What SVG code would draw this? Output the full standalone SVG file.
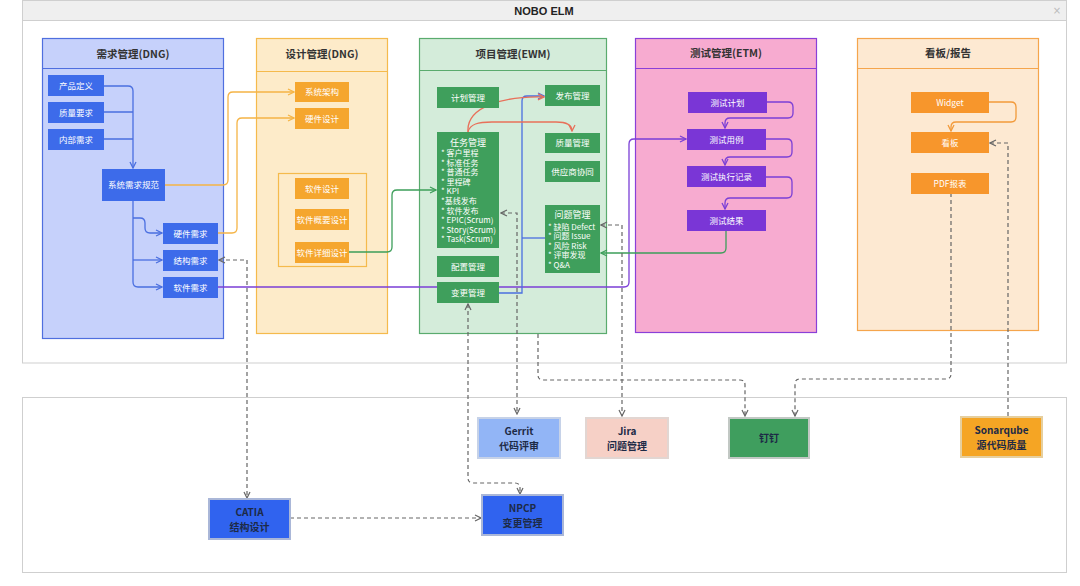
<svg xmlns="http://www.w3.org/2000/svg" width="1080" height="586" viewBox="0 0 1080 586">
<style>
text{font-family:"Noto Sans CJK SC","Noto Sans",sans-serif;}
.hd{font-size:10.5px;font-weight:bold;fill:#333;text-anchor:middle;}
.nt{font-size:8.5px;fill:#fff;text-anchor:middle;}
.lt{font-size:8px;fill:#fff;}
.bt{font-size:10px;font-weight:bold;fill:#1d2a46;text-anchor:middle;}
.c{fill:none;stroke-width:1.3;}
.dash{fill:none;stroke:#666;stroke-width:1.2;stroke-dasharray:4 3;}
.nb{fill:#3d6bea;}
.no{fill:#f5a62e;}
.ng{fill:#3f9f5c;}
.np{fill:#7a36d6;}
.nob{fill:#f7962c;}
</style>
<defs>
<marker id="mb" viewBox="0 0 8 8" refX="7" refY="4" markerWidth="8" markerHeight="8" markerUnits="userSpaceOnUse" orient="auto-start-reverse"><path d="M1,1 L7,4 L1,7" fill="none" stroke="#4a6fe0" stroke-width="1.3"/></marker>
<marker id="mo" viewBox="0 0 8 8" refX="7" refY="4" markerWidth="8" markerHeight="8" markerUnits="userSpaceOnUse" orient="auto-start-reverse"><path d="M1,1 L7,4 L1,7" fill="none" stroke="#f5b445" stroke-width="1.3"/></marker>
<marker id="mg" viewBox="0 0 8 8" refX="7" refY="4" markerWidth="8" markerHeight="8" markerUnits="userSpaceOnUse" orient="auto-start-reverse"><path d="M1,1 L7,4 L1,7" fill="none" stroke="#3d9e5a" stroke-width="1.3"/></marker>
<marker id="mp" viewBox="0 0 8 8" refX="7" refY="4" markerWidth="8" markerHeight="8" markerUnits="userSpaceOnUse" orient="auto-start-reverse"><path d="M1,1 L7,4 L1,7" fill="none" stroke="#7b3fd6" stroke-width="1.3"/></marker>
<marker id="mr" viewBox="0 0 8 8" refX="7" refY="4" markerWidth="8" markerHeight="8" markerUnits="userSpaceOnUse" orient="auto-start-reverse"><path d="M1,1 L7,4 L1,7" fill="none" stroke="#e8705a" stroke-width="1.3"/></marker>
<marker id="mbo" viewBox="0 0 8 8" refX="7" refY="4" markerWidth="8" markerHeight="8" markerUnits="userSpaceOnUse" orient="auto-start-reverse"><path d="M1,1 L7,4 L1,7" fill="none" stroke="#f29a3a" stroke-width="1.3"/></marker>
<marker id="md" viewBox="0 0 8 8" refX="7" refY="4" markerWidth="8" markerHeight="8" markerUnits="userSpaceOnUse" orient="auto-start-reverse"><path d="M1,1 L7,4 L1,7" fill="none" stroke="#666" stroke-width="1.2"/></marker>
</defs>
<rect width="1080" height="586" fill="#fff"/>
<g id="frame">
<rect x="22.5" y="0.5" width="1044" height="362.5" fill="#fff" stroke="#cfcfcf"/>
<rect x="22.5" y="0.5" width="1044" height="20" fill="#efefef" stroke="#cfcfcf"/>
<text x="544" y="14.5" style="font-family:'Liberation Sans','Noto Sans',sans-serif;font-size:11px;font-weight:bold;fill:#222;text-anchor:middle">NOBO ELM</text>
<text x="1057" y="14" style="font-family:'DejaVu Sans',sans-serif;font-size:10px;fill:#bbb;text-anchor:middle">×</text>
<rect x="22.5" y="397.5" width="1044" height="175" fill="#fff" stroke="#cfcfcf"/>
</g>
<g id="col-dng">
<rect x="42.5" y="38.5" width="181" height="300" fill="#c6d1fb" stroke="#4f6fdf" stroke-width="1.2"/>
<line x1="42.5" y1="68.5" x2="223.5" y2="68.5" stroke="#4f6fdf" stroke-width="1.2"/>
<text class="hd" x="133" y="57.5">需求管理(DNG)</text>
</g>
<g id="col-design">
<rect x="256.5" y="38.5" width="131" height="295" fill="#fdebc9" stroke="#f5ba4c" stroke-width="1.2"/>
<line x1="256.5" y1="71.5" x2="387.5" y2="71.5" stroke="#f5ba4c" stroke-width="1.2"/>
<text class="hd" x="322" y="58">设计管理(DNG)</text>
<rect x="278.5" y="173.5" width="88" height="93" fill="none" stroke="#f5ba4c" stroke-width="1.2"/>
</g>
<g id="col-ewm">
<rect x="419.5" y="38.5" width="187" height="295" fill="#d4ecda" stroke="#5aab6e" stroke-width="1.2"/>
<line x1="419.5" y1="70.5" x2="606.5" y2="70.5" stroke="#5aab6e" stroke-width="1.2"/>
<text class="hd" x="513" y="57.5">项目管理(EWM)</text>
</g>
<g id="col-etm">
<rect x="635.5" y="38.5" width="181" height="294" fill="#f7abd0" stroke="#8a3fd8" stroke-width="1.2"/>
<line x1="635.5" y1="68.5" x2="816.5" y2="68.5" stroke="#8a3fd8" stroke-width="1.2"/>
<text class="hd" x="726" y="57">测试管理(ETM)</text>
</g>
<g id="col-board">
<rect x="857.5" y="38.5" width="181" height="292" fill="#fde9d2" stroke="#f5a54c" stroke-width="1.2"/>
<line x1="857.5" y1="68.5" x2="1038.5" y2="68.5" stroke="#f5a54c" stroke-width="1.2"/>
<text class="hd" x="948" y="57">看板/报告</text>
</g>
<g id="connectors">
<path class="c" stroke="#4a6fe0" d="M104,86 H128 Q133,86 133,91 V168" marker-end="url(#mb)"/>
<path class="c" stroke="#4a6fe0" d="M104,112 H133 M104,139 H133"/>
<path class="c" stroke="#4a6fe0" d="M133,201 V282 Q133,287 138,287 H162" marker-end="url(#mb)"/>
<path class="c" stroke="#4a6fe0" d="M133,218 H140 Q145,218 145,223 V228 Q145,233 150,233 H162" marker-end="url(#mb)"/>
<path class="c" stroke="#4a6fe0" d="M133,260 H162" marker-end="url(#mb)"/>
<path class="c" stroke="#f5b445" d="M165,185 H223 Q228,185 228,180 V97 Q228,92 233,92 H294" marker-end="url(#mo)"/>
<path class="c" stroke="#f5b445" d="M218,233 H232 Q237,233 237,228 V123 Q237,118 242,118 H294" marker-end="url(#mo)"/>
<path class="c" stroke="#3d9e5a" d="M349,252 H387 Q392,252 392,247 V195 Q392,190 397,190 H436" marker-end="url(#mg)"/>
<path class="c" stroke="#7b3fd6" d="M218,287 H624 Q629,287 629,282 V144 Q629,139 634,139 H686" marker-end="url(#mp)"/>
<path class="c" stroke="#4a6fe0" d="M499,293 H522 V101 Q522,96 527,96 H544" marker-end="url(#mb)"/>
<path class="c" stroke="#4a6fe0" d="M522,238 H545"/>
<path class="c" stroke="#e8705a" d="M468,132 C466,106 505,96 544,97" marker-end="url(#mr)"/>
<path class="c" stroke="#e8705a" d="M468,132 C470,124 478,122 492,122 H556 C566,122 572,125 572,131" marker-end="url(#mr)"/>
<path class="c" stroke="#3d9e5a" d="M726,231 V248 Q726,253 721,253 H601" marker-end="url(#mg)"/>
<path class="c" stroke="#7b3fd6" d="M767,102 H788 Q793,102 793,107 V113 Q793,118 788,118 H730 Q725,118 725,123 V128" marker-end="url(#mp)"/>
<path class="c" stroke="#7b3fd6" d="M766,139 H787 Q792,139 792,144 V152 Q792,157 787,157 H730 Q725,157 725,162 V165" marker-end="url(#mp)"/>
<path class="c" stroke="#7b3fd6" d="M766,177 H787 Q792,177 792,182 V193 Q792,198 787,198 H730 Q725,198 725,203 V209" marker-end="url(#mp)"/>
<path class="c" stroke="#f29a3a" d="M989,102 H1011 Q1016,102 1016,107 V117 Q1016,122 1011,122 H956 Q951,122 951,127 V131" marker-end="url(#mbo)"/>
<path class="dash" d="M501,213 H517 V414" marker-start="url(#md)" marker-end="url(#md)"/>
<path class="dash" d="M538,334 V375 Q538,380 543,380 H740 Q745,380 745,385 V416" marker-end="url(#md)"/>
<path class="dash" d="M601,225 H622 V416" marker-start="url(#md)" marker-end="url(#md)"/>
<path class="dash" d="M951,193 V374 Q951,379 946,379 H800 Q795,379 795,384 V416" marker-end="url(#md)"/>
<path class="dash" d="M990,143 H1008 V417" marker-start="url(#md)"/>
<path class="dash" d="M219,260 H247 V498" marker-start="url(#md)" marker-end="url(#md)"/>
<path class="dash" d="M290,518 H481" marker-end="url(#md)"/>
<path class="dash" d="M468,304 V478 Q468,483 473,483 H515 Q520,483 520,488 V494" marker-start="url(#md)" marker-end="url(#md)"/>
</g>
<g id="n-cpdy"><rect class="nb" x="48" y="75" width="56" height="21"/><text class="nt" x="76" y="88.5">产品定义</text></g>
<g id="n-zlyq"><rect class="nb" x="48" y="102" width="56" height="21"/><text class="nt" x="76" y="115.5">质量要求</text></g>
<g id="n-nbxq"><rect class="nb" x="48" y="129" width="56" height="21"/><text class="nt" x="76" y="142.5">内部需求</text></g>
<g id="n-xtxqgf"><rect class="nb" x="102" y="169" width="63" height="32"/><text class="nt" x="133.5" y="188">系统需求规范</text></g>
<g id="n-yjxq"><rect class="nb" x="163" y="223" width="55" height="21"/><text class="nt" x="190.5" y="236.5">硬件需求</text></g>
<g id="n-jgxq"><rect class="nb" x="163" y="250" width="55" height="21"/><text class="nt" x="190.5" y="263.5">结构需求</text></g>
<g id="n-rjxq"><rect class="nb" x="163" y="277" width="55" height="21"/><text class="nt" x="190.5" y="290.5">软件需求</text></g>
<g id="n-xtjg"><rect class="no" x="295" y="82" width="54" height="20"/><text class="nt" x="322" y="95">系统架构</text></g>
<g id="n-yjsj"><rect class="no" x="295" y="108" width="54" height="21"/><text class="nt" x="322" y="121.5">硬件设计</text></g>
<g id="n-rjsj"><rect class="no" x="295" y="178" width="54" height="21"/><text class="nt" x="322" y="191.5">软件设计</text></g>
<g id="n-rjgysj"><rect class="no" x="295" y="209" width="54" height="21"/><text class="nt" x="322" y="222.5">软件概要设计</text></g>
<g id="n-rjxxsj"><rect class="no" x="295" y="242" width="54" height="21"/><text class="nt" x="322" y="255.5">软件详细设计</text></g>
<g id="n-jhgl"><rect class="ng" x="437" y="87" width="62" height="21"/><text class="nt" x="468" y="100.5">计划管理</text></g>
<g id="n-fbgl"><rect class="ng" x="545" y="85" width="55" height="21"/><text class="nt" x="572.5" y="98.5">发布管理</text></g>
<g id="n-rwgl"><rect class="ng" x="437" y="132" width="62" height="116"/>
<text class="nt" x="468" y="146" style="font-size:9px">任务管理</text>
<text class="lt" x="441" y="156">* 客户里程</text>
<text class="lt" x="441" y="165.6">* 标准任务</text>
<text class="lt" x="441" y="175.2">* 普通任务</text>
<text class="lt" x="441" y="184.8">* 里程碑</text>
<text class="lt" x="441" y="194.4">* KPI</text>
<text class="lt" x="441" y="204">*基线发布</text>
<text class="lt" x="441" y="213.6">* 软件发布</text>
<text class="lt" x="441" y="223.2">* EPIC(Scrum)</text>
<text class="lt" x="441" y="232.8">* Story(Scrum)</text>
<text class="lt" x="441" y="242.4">* Task(Scrum)</text>
</g>
<g id="n-zlgl"><rect class="ng" x="545" y="133" width="55" height="20"/><text class="nt" x="572.5" y="146">质量管理</text></g>
<g id="n-gysxt"><rect class="ng" x="545" y="161" width="55" height="21"/><text class="nt" x="572.5" y="174.5">供应商协同</text></g>
<g id="n-wtgl"><rect class="ng" x="545" y="205" width="55" height="68"/>
<text class="nt" x="572.5" y="218" style="font-size:9px">问题管理</text>
<text class="lt" x="548" y="229.5">* 缺陷 Defect</text>
<text class="lt" x="548" y="239">* 问题 Issue</text>
<text class="lt" x="548" y="248.5">* 风险 Risk</text>
<text class="lt" x="548" y="258">* 评审发现</text>
<text class="lt" x="548" y="267.5">* Q&amp;A</text>
</g>
<g id="n-pzgl"><rect class="ng" x="437" y="256" width="62" height="21"/><text class="nt" x="468" y="269.5">配置管理</text></g>
<g id="n-bggl"><rect class="ng" x="437" y="282" width="62" height="21"/><text class="nt" x="468" y="295.5">变更管理</text></g>
<g id="n-csjh"><rect class="np" x="688" y="92" width="79" height="21"/><text class="nt" x="727.5" y="105.5">测试计划</text></g>
<g id="n-csyl"><rect class="np" x="687" y="129" width="79" height="21"/><text class="nt" x="726.5" y="142.5">测试用例</text></g>
<g id="n-cszxjl"><rect class="np" x="687" y="166" width="79" height="21"/><text class="nt" x="726.5" y="179.5">测试执行记录</text></g>
<g id="n-csjg"><rect class="np" x="687" y="210" width="79" height="21"/><text class="nt" x="726.5" y="223.5">测试结果</text></g>
<g id="n-widget"><rect class="nob" x="911" y="92" width="78" height="21"/><text class="nt" x="950" y="105.5">Widget</text></g>
<g id="n-kb"><rect class="nob" x="911" y="132" width="78" height="21"/><text class="nt" x="950" y="145.5">看板</text></g>
<g id="n-pdf"><rect class="nob" x="911" y="173" width="78" height="21"/><text class="nt" x="950" y="186.5">PDF报表</text></g>
<g id="n-gerrit"><rect x="478" y="418" width="82" height="40" fill="#92b5f6" stroke="#c6d2e8" stroke-width="2"/><text class="bt" x="519" y="435">Gerrit</text><text class="bt" x="519" y="449.5">代码评审</text></g>
<g id="n-jira"><rect x="586" y="418" width="82" height="40" fill="#f6d0c6" stroke="#e2d6d2" stroke-width="2"/><text class="bt" x="627" y="435">Jira</text><text class="bt" x="627" y="449.5">问题管理</text></g>
<g id="n-dingding"><rect x="729" y="418" width="80" height="40" fill="#3f9e5e" stroke="#c2c8c4" stroke-width="2"/><text class="bt" x="769" y="442">钉钉</text></g>
<g id="n-sonarqube"><rect x="961" y="417" width="81" height="40" fill="#f5a524" stroke="#e6cf9e" stroke-width="2"/><text class="bt" x="1001.5" y="434">Sonarqube</text><text class="bt" x="1001.5" y="448.5">源代码质量</text></g>
<g id="n-catia"><rect x="209" y="499" width="81" height="40" fill="#3063ef" stroke="#aab7d8" stroke-width="2"/><text class="bt" x="249.5" y="516">CATIA</text><text class="bt" x="249.5" y="530.5">结构设计</text></g>
<g id="n-npcp"><rect x="482" y="495" width="81" height="40" fill="#3063ef" stroke="#aab7d8" stroke-width="2"/><text class="bt" x="522.5" y="512">NPCP</text><text class="bt" x="522.5" y="526.5">变更管理</text></g>
</svg>
